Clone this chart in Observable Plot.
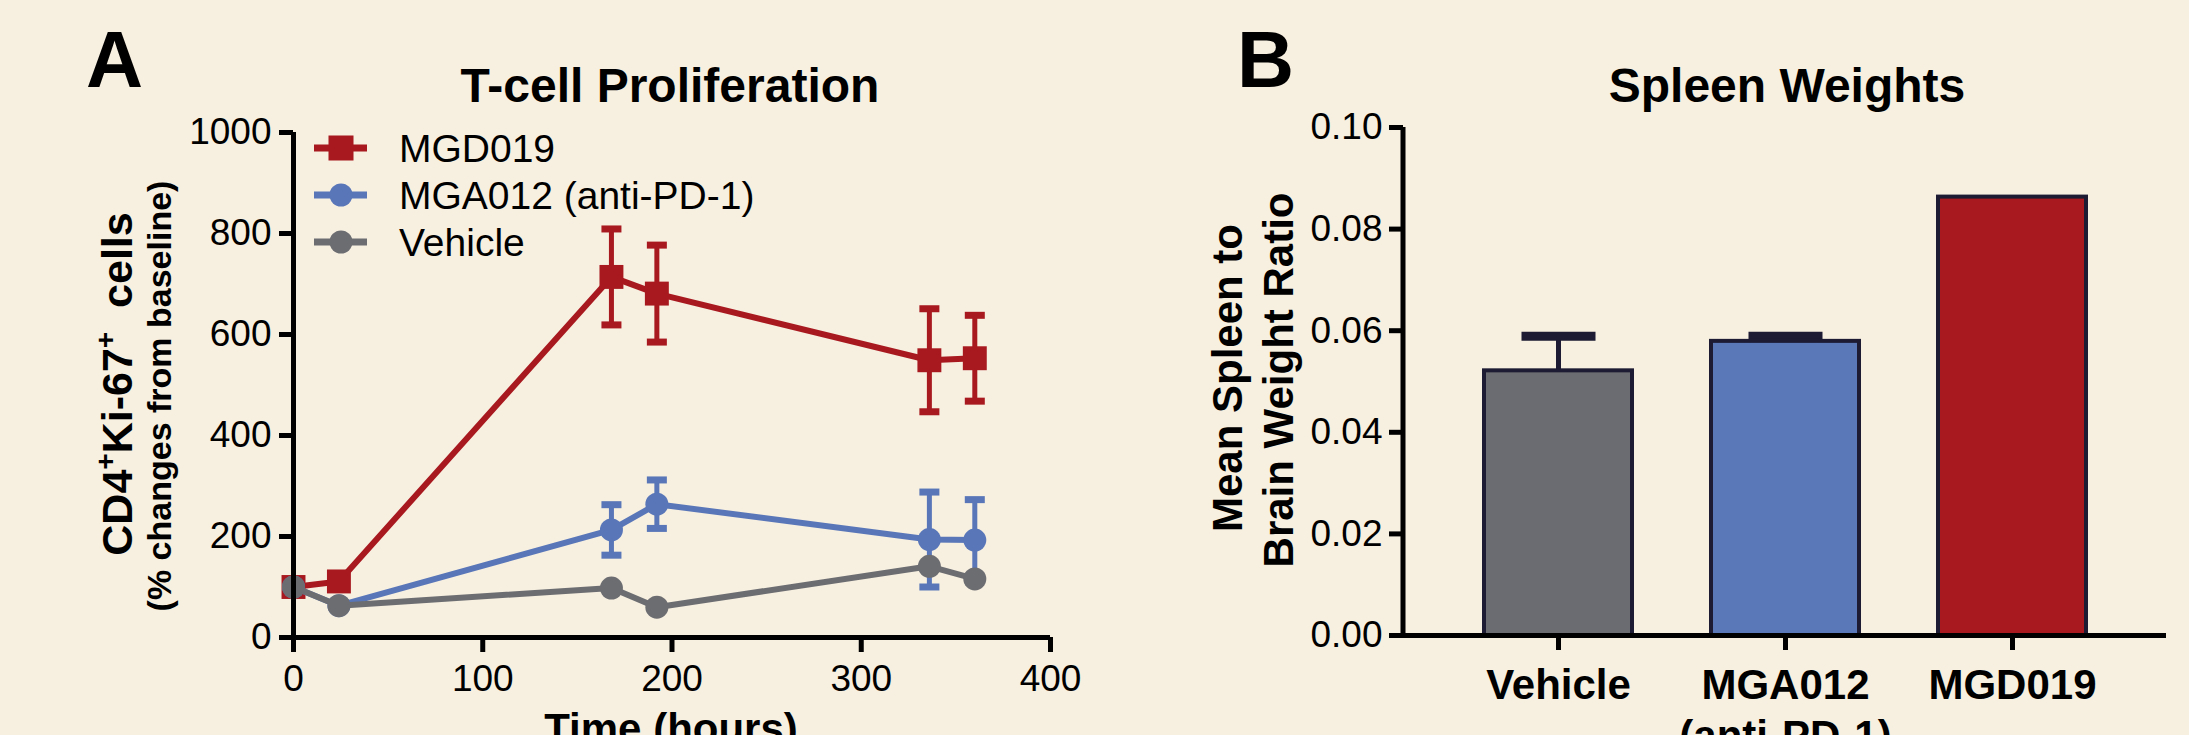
<!DOCTYPE html>
<html><head><meta charset="utf-8">
<script src="https://cdn.jsdelivr.net/npm/d3@7"></script>
<script src="https://cdn.jsdelivr.net/npm/@observablehq/plot@0.6"></script>
<style>
html,body{margin:0;padding:0;background:#f7efe0;overflow:hidden}
#fig{position:relative;width:2189px;height:735px;background:#f7efe0;font-family:"Liberation Sans",Arial,sans-serif;overflow:hidden}
#fig > div{position:absolute;top:0}
#overlay{position:absolute;left:0;top:0;pointer-events:none}
</style></head><body><div id="fig"><div id="pa" style="left:0"></div><div id="pb" style="left:1100px"></div></div>
<script>
// ---------- Panel A data ----------
const hours = [0, 24, 168, 192, 336, 360];
const mgd019Mean = [100, 111, 714, 681, 549, 553];
const mgd019Err  = [0, 0, 95, 96, 102, 85];
const mga012Mean = [100, 63, 213, 264, 194, 193];
const mga012Err  = [0, 0, 50, 48, 94, 80];
const vehicleMean = [100, 63, 98, 60, 141, 116];
const vehicleErr  = [0, 0, 0, 0, 0, 0];
const seriesNames = ["MGD019", "MGA012 (anti-PD-1)", "Vehicle"];
const seriesColors = ["#a8191f", "#5876b8", "#6c6d71"];
const seriesSymbols = ["square", "circle", "circle"];
const xTicksA = [0, 100, 200, 300, 400];
const yTicksA = [0, 200, 400, 600, 800, 1000];

// ---------- Panel B data ----------
const groups = ["Vehicle", "MGA012", "MGD019"];
const groupLabels = ["Vehicle", "MGA012\n(anti-PD-1)", "MGD019"];
const spleenRatio = [0.0521, 0.0579, 0.0863];
const spleenErr = [0.0068, 0.0010, 0];
const barColors = ["#6b6c71", "#5a78b8", "#a7191f"];
const yTicksB = [0, 0.02, 0.04, 0.06, 0.08, 0.10];

const FONT = '"Liberation Sans", Arial, Helvetica, sans-serif';
const INK = "#1c1b33";

function capSymbol(halfH) {
  return {draw(ctx, size) {
    const w = Math.sqrt(size / Math.PI);
    ctx.moveTo(-w, -halfH); ctx.lineTo(w, -halfH); ctx.lineTo(w, halfH); ctx.lineTo(-w, halfH); ctx.closePath();
  }};
}

// ----- build panel A table -----
const means = [mgd019Mean, mga012Mean, vehicleMean];
const errs = [mgd019Err, mga012Err, vehicleErr];
const marksA = [];
seriesNames.forEach((s, i) => {
  const rows = hours.map((h, j) => ({series: s, t: h, v: means[i][j], e: errs[i][j], lo: means[i][j] - errs[i][j], hi: means[i][j] + errs[i][j]}));
  const er = rows.filter(d => d.e > 0);
  marksA.push(
    Plot.line(rows, {x: "t", y: "v", stroke: seriesColors[i], strokeWidth: 6}),
    Plot.ruleX(er, {x: "t", y1: "lo", y2: "hi", stroke: seriesColors[i], strokeWidth: 5}),
    Plot.dot(er, {x: "t", y: "hi", symbol: capSymbol(3.5), r: 10, fill: seriesColors[i], stroke: "none"}),
    Plot.dot(er, {x: "t", y: "lo", symbol: capSymbol(3.5), r: 10, fill: seriesColors[i], stroke: "none"}),
    Plot.dot(rows, {x: "t", y: "v", symbol: seriesSymbols[i], r: i === 0 ? 13.5 : 11.5, fill: seriesColors[i], stroke: "none"})
  );
});

const plotA = Plot.plot({
  width: 1100, height: 735,
  marginLeft: 293, marginRight: 50, marginTop: 132, marginBottom: 98,
  x: {domain: [0, 400]},
  y: {domain: [0, 1000]},
  style: {background: "transparent", overflow: "visible", fontFamily: FONT, fontSize: "37px", color: "#000"},
  marks: [
    Plot.axisX({ticks: xTicksA, tickFormat: d3.format("d"), tickSize: 15, tickPadding: 12, strokeWidth: 5, fontSize: 37, label: null}),
    Plot.axisY({ticks: yTicksA, tickFormat: d3.format("d"), tickSize: 14, tickPadding: 8, strokeWidth: 5, fontSize: 37, label: null}),
    ...marksA,
    Plot.ruleX([0], {stroke: "#000", strokeWidth: 5}),
    Plot.ruleY([0], {stroke: "#000", strokeWidth: 5})
  ]
});
document.getElementById("pa").appendChild(plotA);

// ----- panel B -----
const bars = groups.map((g, i) => ({group: g, value: spleenRatio[i], e: spleenErr[i], hi: spleenRatio[i] + spleenErr[i]}));
const barsErr = bars.filter(d => d.e > 0);
const labelOf = new Map(groups.map((g, i) => [g, groupLabels[i]]));

const plotB = Plot.plot({
  width: 1089, height: 735,
  marginLeft: 303, marginRight: 23, marginTop: 127, marginBottom: 100,
  x: {type: "band", domain: groups, paddingInner: 0.35, paddingOuter: 0.355},
  y: {domain: [0, 0.1]},
  color: {domain: groups, range: barColors},
  style: {background: "transparent", overflow: "visible", fontFamily: FONT, fontSize: "37px", color: "#000"},
  marks: [
    Plot.axisY({ticks: yTicksB, tickFormat: d3.format(".2f"), tickSize: 14, tickPadding: 7, strokeWidth: 5, fontSize: 37, label: null}),
    Plot.axisX({tickSize: 15, tickPadding: 12, strokeWidth: 5, fontSize: 42, fontWeight: "bold", lineHeight: 1.22, tickFormat: g => labelOf.get(g), label: null}),
    Plot.ruleX(barsErr, {x: "group", y1: "value", y2: "hi", stroke: INK, strokeWidth: 5}),
    Plot.dot(barsErr, {x: "group", y: "hi", symbol: capSymbol(4.5), r: 37, fill: INK, stroke: "none"}),
    Plot.barY(bars, {x: "group", y: "value", fill: "group", stroke: INK, strokeWidth: 4}),
    Plot.ruleY([0], {stroke: "#000", strokeWidth: 5})
  ]
});
document.getElementById("pb").appendChild(plotB);

// ----- overlay: panel letters, titles, axis titles, legend, B's y-axis line -----
const ov = d3.select("#fig").append("svg").attr("id", "overlay")
  .attr("width", 2189).attr("height", 735)
  .style("font-family", FONT);

// y axis line for the band-scale panel, placed with the plot's own scales
{
  const sx = plotB.scale("x"), sy = plotB.scale("y");
  const x0 = 1100 + sx.range[0];
  ov.append("line").attr("x1", x0).attr("x2", x0)
    .attr("y1", sy.apply(0) + 2.5).attr("y2", sy.apply(0.1))
    .attr("stroke", "#000").attr("stroke-width", 5);
}

function txt(x, y, s, size, weight, anchor, rot) {
  const t = ov.append("text").attr("font-size", size).attr("font-weight", weight)
    .attr("text-anchor", anchor || "start").attr("fill", "#000");
  if (rot) t.attr("transform", `translate(${x},${y}) rotate(${rot})`);
  else t.attr("x", x).attr("y", y);
  t.text(s);
  return t;
}
txt(86, 87, "A", 79, "bold");
txt(1237, 87, "B", 79, "bold");
txt(670, 102, "T-cell Proliferation", 48, "bold", "middle");
txt(1787, 102, "Spleen Weights", 48, "bold", "middle");

// y title A with superscripts
const ya = ov.append("text").attr("font-size", 43).attr("font-weight", "bold")
  .attr("text-anchor", "middle").attr("transform", "translate(132,384) rotate(-90)");
ya.append("tspan").text("CD4");
ya.append("tspan").attr("font-size", 28).attr("dy", -17).text("+");
ya.append("tspan").attr("dy", 17).text("Ki-67");
ya.append("tspan").attr("font-size", 28).attr("dy", -17).text("+");
ya.append("tspan").attr("dy", 17).text("\u00a0 cells");
txt(171, 396, "(% changes from baseline)", 34, "bold", "middle", -90);

txt(1242, 378, "Mean Spleen to", 42, "bold", "middle", -90);
txt(1293, 380, "Brain Weight Ratio", 42, "bold", "middle", -90);

txt(671, 743, "Time (hours)", 42, "bold", "middle");

// legend
const legY = [148, 195, 242];
seriesNames.forEach((s, i) => {
  const g = ov.append("g");
  g.append("line").attr("x1", 314).attr("x2", 367).attr("y1", legY[i]).attr("y2", legY[i])
    .attr("stroke", seriesColors[i]).attr("stroke-width", 7);
  if (seriesSymbols[i] === "square")
    g.append("rect").attr("x", 341 - 12.5).attr("y", legY[i] - 12.5).attr("width", 25).attr("height", 25).attr("fill", seriesColors[i]);
  else
    g.append("circle").attr("cx", 341).attr("cy", legY[i]).attr("r", 11.5).attr("fill", seriesColors[i]);
  g.append("text").attr("x", 399).attr("y", legY[i]).attr("dy", "0.36em")
    .attr("font-size", 39).text(s);
});
</script></body></html>
